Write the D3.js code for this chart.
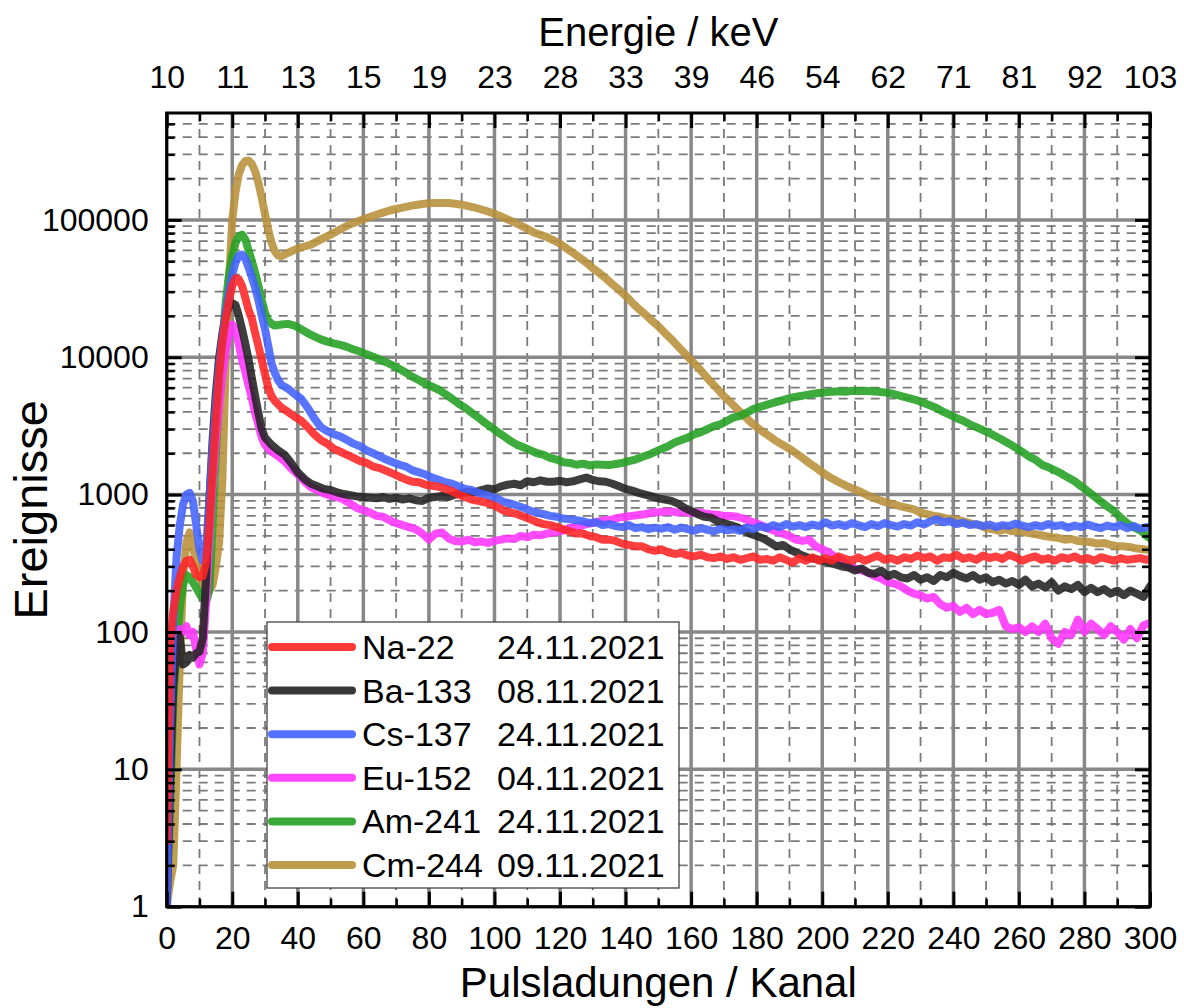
<!DOCTYPE html>
<html>
<head>
<meta charset="utf-8">
<script src="https://cdn.jsdelivr.net/npm/d3@7"></script>
<style>
  body { margin: 0; background: #fff; }
  svg  { display: block; font-family: "Liberation Sans", Arial, sans-serif; }
</style>
</head>
<body>
<svg id="chart" width="1184" height="1008"></svg>
<script>
// [channel, events]
const naData = [[0,3],[1,80],[2,140],[3,200],[4,250],[5,300],[6,330],[7,335],[8,300],[9,260],[10,250],[11,255],[12,320],[13,600],[14,1500],[15,3500],[16,7500],[17,13000],[18,19000],[19,26000],[20,33000],[21,37500],[22,37000],[23,33000],[24,27000],[25,22000],[26,19000],[27,15000],[28,12000],[29,9500],[30,7500],[31,6000],[32,5200],[33,4800],[35,4300],[37,4000],[39,3700],[41,3450],[43,3100],[45,2750],[47,2500],[49,2350],[51,2150],[53,2050],[55,1950],[57,1850],[59,1750],[61,1700],[63,1600],[65,1560],[67,1490],[69,1420],[71,1350],[73,1290],[75,1240],[77,1230],[79,1180],[81,1160],[83,1140],[85,1100],[87,1060],[89,1000],[91,960],[93,920],[95,900],[97,880],[99,850],[101,810],[103,760],[105,740],[107,720],[109,690],[111,660],[113,630],[115,610],[117,600],[119,580],[121,560],[123,540],[125,520],[127,520],[129,500],[131,490],[133,470],[135,470],[137,460],[139,440],[141,430],[143,420],[145,420],[147,400],[149,390],[151,400],[153,380],[155,370],[157,375],[159,360],[161,355],[163,365],[165,350],[167,345],[169,355],[171,340],[173,350],[175,335],[177,345],[179,355],[181,335],[183,340],[185,330],[187,350],[189,335],[191,320],[193,345],[195,330],[197,350],[199,330],[201,345],[203,330],[205,355],[207,340],[209,330],[211,350],[213,330],[215,345],[217,360],[219,335],[221,345],[223,330],[225,350],[227,340],[229,360],[231,345],[233,355],[235,330],[237,350],[239,345],[241,365],[243,340],[245,350],[247,335],[249,360],[251,345],[253,355],[255,340],[257,365],[259,350],[261,330],[263,345],[265,355],[267,335],[269,345],[271,330],[273,350],[275,340],[277,355],[279,335],[281,345],[283,330],[285,350],[287,340],[289,330],[291,345],[293,335],[295,340],[297,345],[299,335],[300,340]];

const baData = [[0,1],[1,8],[2,40],[3,80],[4,92],[5,58],[6,60],[7,68],[8,65],[9,70],[10,72],[11,90],[12,250],[13,900],[14,2500],[15,5500],[16,10000],[17,15000],[18,20000],[19,23500],[20,24800],[21,24000],[22,20000],[23,16000],[24,12500],[25,9500],[26,7000],[27,5200],[28,3900],[29,3000],[30,2600],[32,2300],[34,2100],[36,1950],[38,1700],[40,1450],[42,1300],[44,1200],[46,1150],[48,1100],[50,1080],[52,1040],[54,1010],[56,990],[58,970],[60,960],[62,950],[64,940],[66,960],[68,930],[70,950],[72,920],[74,940],[76,910],[78,900],[80,950],[82,960],[84,980],[86,960],[88,1000],[90,1030],[92,1050],[94,1040],[96,1080],[98,1110],[100,1090],[102,1150],[104,1180],[106,1200],[108,1170],[110,1250],[112,1230],[114,1270],[116,1240],[118,1240],[120,1260],[122,1230],[124,1250],[126,1290],[128,1330],[130,1280],[132,1250],[134,1240],[136,1200],[138,1150],[140,1100],[142,1070],[144,1030],[146,1000],[148,970],[150,940],[152,920],[154,900],[156,860],[158,800],[160,760],[162,720],[164,690],[166,680],[168,640],[170,620],[172,600],[174,580],[176,550],[178,520],[180,500],[182,480],[184,450],[186,420],[188,430],[190,400],[192,380],[194,360],[196,345],[198,340],[200,330],[202,320],[204,310],[206,300],[208,295],[210,280],[212,290],[214,270],[216,265],[218,280],[220,255],[222,265],[224,250],[226,245],[228,260],[230,240],[232,250],[234,235],[236,260],[238,250],[240,270],[242,255],[244,245],[246,260],[248,240],[250,250],[252,230],[254,240],[256,225],[258,235],[260,220],[262,240],[264,215],[266,225],[268,210],[270,230],[272,200],[274,215],[276,205],[278,220],[280,195],[282,210],[284,195],[286,205],[288,190],[290,200],[292,185],[294,200],[296,190],[298,180],[300,215]];

const csData = [[0,1],[1,20],[2,120],[3,350],[4,600],[5,850],[6,1000],[7,1030],[8,900],[9,600],[10,400],[11,330],[12,400],[13,900],[14,2200],[15,4500],[16,8500],[17,14000],[18,21000],[19,30000],[20,40000],[21,49000],[22,55000],[23,56000],[24,52000],[25,45000],[26,38000],[27,32000],[28,26000],[29,20000],[30,16000],[31,12000],[32,9000],[33,7700],[34,6800],[35,6300],[37,5900],[39,5400],[41,5000],[43,4300],[45,3600],[47,3100],[49,2900],[51,2750],[53,2650],[55,2500],[57,2350],[59,2250],[61,2100],[63,2000],[65,1900],[67,1800],[69,1720],[71,1650],[73,1600],[75,1500],[77,1450],[79,1400],[81,1330],[83,1280],[85,1230],[87,1200],[89,1150],[91,1100],[93,1080],[95,1030],[97,1000],[99,960],[101,930],[103,880],[105,860],[107,830],[109,800],[111,760],[113,740],[115,720],[117,700],[119,690],[121,670],[123,660],[125,650],[127,640],[129,620],[131,630],[133,600],[135,610],[137,590],[139,580],[141,600],[143,570],[145,580],[147,560],[149,575],[151,565],[153,580],[155,555],[157,575],[159,560],[161,545],[163,570],[165,555],[167,540],[169,565],[171,550],[173,560],[175,545],[177,575],[179,560],[181,590],[183,570],[185,600],[187,580],[189,610],[191,585],[193,600],[195,580],[197,605],[199,590],[201,630],[203,595],[205,610],[207,590],[209,620],[211,600],[213,580],[215,610],[217,590],[219,620],[221,600],[223,585],[225,610],[227,595],[229,630],[231,605],[233,640],[235,660],[237,630],[239,640],[241,610],[243,625],[245,600],[247,610],[249,590],[251,605],[253,580],[255,600],[257,590],[259,615],[261,595],[263,580],[265,600],[267,585],[269,610],[271,590],[273,600],[275,575],[277,595],[279,580],[281,605],[283,585],[285,570],[287,595],[289,580],[291,600],[293,570],[295,590],[297,565],[299,580],[300,575]];

const euData = [[0,1],[1,10],[2,50],[3,90],[4,105],[5,100],[6,110],[7,95],[8,100],[9,75],[10,58],[11,70],[12,160],[13,500],[14,1200],[15,2500],[16,4500],[17,7500],[18,11000],[19,15000],[20,17300],[21,16000],[22,12500],[23,9500],[24,7800],[25,6200],[26,5000],[27,3900],[28,3200],[29,2600],[30,2300],[32,2050],[34,1900],[36,1750],[38,1550],[40,1400],[42,1250],[44,1130],[46,1080],[48,1020],[50,980],[52,960],[54,920],[56,860],[58,800],[60,770],[62,740],[64,700],[66,690],[68,650],[70,620],[72,600],[74,580],[76,560],[78,520],[80,470],[82,520],[84,530],[86,480],[88,460],[90,455],[92,470],[94,450],[96,455],[98,445],[100,460],[102,470],[104,480],[106,475],[108,500],[110,490],[112,510],[114,505],[116,520],[118,530],[120,540],[122,560],[124,580],[126,590],[128,610],[130,620],[132,640],[134,650],[136,660],[138,680],[140,690],[142,700],[144,710],[146,720],[148,740],[150,745],[152,750],[154,755],[156,740],[158,750],[160,735],[162,740],[164,730],[166,720],[168,715],[170,700],[172,700],[174,690],[176,670],[178,640],[180,615],[182,590],[184,560],[186,540],[188,520],[190,500],[192,470],[194,460],[196,470],[198,420],[200,400],[202,380],[204,350],[206,330],[208,300],[210,290],[212,280],[214,270],[216,255],[218,245],[220,230],[222,225],[224,215],[226,200],[228,190],[230,185],[232,175],[234,180],[236,160],[238,150],[240,155],[242,140],[244,150],[246,135],[248,145],[250,135],[252,138],[254,145],[256,110],[258,105],[260,108],[262,100],[264,110],[266,100],[268,115],[270,90],[272,82],[274,100],[276,95],[278,123],[280,100],[282,115],[284,105],[286,95],[288,110],[290,100],[292,88],[294,105],[296,90],[298,112],[300,116]];

const amData = [[0,1],[1,5],[2,30],[3,80],[4,150],[5,220],[6,260],[7,250],[8,230],[9,210],[10,190],[11,175],[12,165],[13,200],[14,600],[15,2000],[16,5500],[17,13000],[18,25000],[19,40000],[20,55000],[21,68000],[22,76000],[23,78000],[24,72000],[25,60000],[26,50000],[27,41000],[28,33000],[29,26000],[30,21000],[31,18500],[32,17500],[33,17000],[35,17300],[37,17500],[39,17000],[41,16000],[43,15000],[45,14200],[47,13500],[49,13000],[51,12600],[53,12300],[55,11900],[57,11400],[59,11000],[61,10500],[63,10100],[65,9600],[67,9200],[69,8700],[71,8200],[73,7700],[75,7200],[77,6800],[79,6400],[81,6100],[83,5800],[85,5400],[87,5000],[89,4600],[91,4300],[93,3950],[95,3650],[97,3350],[99,3100],[101,2850],[103,2650],[105,2450],[107,2300],[109,2200],[111,2100],[113,2000],[115,1950],[117,1850],[119,1800],[121,1720],[123,1700],[125,1650],[127,1680],[129,1630],[131,1660],[133,1650],[135,1640],[137,1670],[139,1700],[141,1750],[143,1800],[145,1880],[147,1950],[149,2050],[151,2150],[153,2250],[155,2400],[157,2500],[159,2600],[161,2750],[163,2850],[165,3000],[167,3150],[169,3250],[171,3450],[173,3650],[175,3750],[177,3950],[179,4200],[181,4350],[183,4500],[185,4650],[187,4800],[189,4950],[191,5100],[193,5200],[195,5300],[197,5400],[199,5500],[201,5550],[203,5600],[205,5650],[207,5600],[209,5700],[211,5650],[213,5700],[215,5650],[217,5600],[219,5550],[221,5450],[223,5300],[225,5150],[227,5000],[229,4850],[231,4650],[233,4450],[235,4250],[237,4000],[239,3800],[241,3600],[243,3450],[245,3250],[247,3100],[249,2950],[251,2800],[253,2650],[255,2500],[257,2350],[259,2200],[261,2050],[263,1900],[265,1800],[267,1650],[269,1580],[271,1500],[273,1420],[275,1330],[277,1250],[279,1150],[281,1060],[283,970],[285,890],[287,820],[289,760],[291,680],[293,620],[295,580],[297,550],[299,500],[300,480]];

const cmData = [[0,1],[1,1.5],[2,2],[3,10],[4,60],[5,250],[6,450],[7,530],[8,420],[9,320],[10,260],[11,220],[12,200],[13,200],[14,220],[15,300],[16,450],[17,1300],[18,9000],[19,35000],[20,100000],[21,160000],[22,215000],[23,250000],[24,268000],[25,270000],[26,255000],[27,225000],[28,185000],[29,145000],[30,110000],[31,85000],[32,68000],[33,59000],[34,55000],[35,54500],[36,56000],[38,59000],[40,62000],[42,64000],[44,66000],[46,70000],[48,74000],[50,78000],[52,83000],[54,88000],[56,93000],[58,97000],[60,101000],[62,105000],[64,109000],[66,113000],[68,117000],[70,120000],[72,123000],[74,126000],[76,128500],[78,130500],[80,132000],[82,133000],[84,133000],[86,132500],[88,131000],[90,129000],[92,126000],[94,123000],[96,119000],[98,115000],[100,111000],[102,106000],[104,101000],[106,96000],[108,91000],[110,86000],[112,81000],[114,78000],[116,75000],[118,71000],[120,67000],[122,62000],[124,57500],[126,53000],[128,49000],[130,44500],[132,41000],[134,37500],[136,34000],[138,31000],[140,28000],[142,25000],[144,22500],[146,20500],[148,18500],[150,16800],[152,15000],[154,13500],[156,12000],[158,10700],[160,9500],[162,8500],[164,7500],[166,6600],[168,5900],[170,5200],[172,4700],[174,4200],[176,3800],[178,3400],[180,3100],[182,2850],[184,2650],[186,2450],[188,2300],[190,2150],[192,2000],[194,1850],[196,1700],[198,1580],[200,1450],[202,1350],[204,1270],[206,1200],[208,1140],[210,1090],[212,1040],[214,980],[216,940],[218,900],[220,870],[222,850],[224,820],[226,800],[228,780],[230,740],[232,720],[234,700],[236,690],[238,670],[240,660],[242,650],[244,630],[246,610],[248,600],[250,570],[252,560],[254,545],[256,560],[258,540],[260,545],[262,530],[264,520],[266,510],[268,500],[270,490],[272,485],[274,470],[276,475],[278,460],[280,455],[282,450],[284,440],[286,445],[288,430],[290,420],[292,420],[294,415],[296,405],[298,400],[300,395]];

const seriesNames  = ['Na-22', 'Ba-133', 'Cs-137', 'Eu-152', 'Am-241', 'Cm-244'];
const seriesDates  = ['24.11.2021', '08.11.2021', '24.11.2021', '04.11.2021', '24.11.2021', '09.11.2021'];
const seriesColors = ['#ff2424', '#222222', '#4262ff', '#ff33ff', '#22a022', '#b8903a'];
const seriesData   = [naData, baData, csData, euData, amData, cmData];
// draw order (back to front)
const drawOrder = [5, 4, 3, 1, 2, 0];

const channelTicks = d3.range(0, 301, 20);
const channelMinor = d3.range(10, 300, 20);
const energyLabels = ['10', '11', '13', '15', '19', '23', '28', '33', '39', '46', '54', '62', '71', '81', '92', '103'];
const decadeTicks  = [1, 10, 100, 1000, 10000, 100000];

const plot = { left: 166.7, right: 1150, top: 113, bottom: 906.7 };

const svg = d3.select('#chart');

const xScale = d3.scaleLinear().domain([0, 300]).range([plot.left, plot.right]);
const yScale = d3.scaleLog().domain([1, 600000]).range([plot.bottom, plot.top]);

const minorY = [];
for (let k = 0; k <= 5; k++) {
  for (let m = 2; m <= 9; m++) {
    const v = m * Math.pow(10, k);
    if (v < 600000) minorY.push(v);
  }
}

// gridlines
const grid = svg.append('g').attr('class', 'grid');

grid.selectAll('line.vminor')
  .data(channelMinor)
  .join('line')
  .attr('x1', d => xScale(d)).attr('x2', d => xScale(d))
  .attr('y1', plot.top).attr('y2', plot.bottom)
  .attr('stroke', '#7a7a7a').attr('stroke-width', 1.8)
  .attr('stroke-dasharray', '9,7');

grid.selectAll('line.hminor')
  .data(minorY)
  .join('line')
  .attr('x1', plot.left).attr('x2', plot.right)
  .attr('y1', d => yScale(d)).attr('y2', d => yScale(d))
  .attr('stroke', '#7a7a7a').attr('stroke-width', 1.8)
  .attr('stroke-dasharray', '9,7');

grid.selectAll('line.vmajor')
  .data(channelTicks)
  .join('line')
  .attr('x1', d => xScale(d)).attr('x2', d => xScale(d))
  .attr('y1', plot.top).attr('y2', plot.bottom)
  .attr('stroke', '#888').attr('stroke-width', 3.5);

grid.selectAll('line.hmajor')
  .data(decadeTicks)
  .join('line')
  .attr('x1', plot.left).attr('x2', plot.right)
  .attr('y1', d => yScale(d)).attr('y2', d => yScale(d))
  .attr('stroke', '#888').attr('stroke-width', 3.5);

// curves
svg.append('clipPath').attr('id', 'clip')
  .append('rect')
  .attr('x', plot.left).attr('y', plot.top)
  .attr('width', plot.right - plot.left).attr('height', plot.bottom - plot.top);

const line = d3.line()
  .x(d => xScale(d[0]))
  .y(d => yScale(d[1]));

svg.append('g')
  .attr('clip-path', 'url(#clip)')
  .selectAll('path')
  .data(drawOrder)
  .join('path')
  .attr('d', i => line(seriesData[i]))
  .attr('fill', 'none')
  .attr('stroke', i => seriesColors[i])
  .attr('stroke-width', 8)
  .attr('stroke-opacity', 0.88)
  .attr('stroke-linejoin', 'round')
  .attr('stroke-linecap', 'round');

// legend
const legend = svg.append('g').attr('class', 'legend');
legend.append('rect')
  .attr('x', 267).attr('y', 622).attr('width', 412).attr('height', 266)
  .attr('fill', '#fff').attr('stroke', '#333').attr('stroke-width', 1.2);

const rows = legend.selectAll('g.row')
  .data(seriesNames)
  .join('g')
  .attr('transform', (d, i) => `translate(0, ${647 + i * 43.6})`);

rows.append('line')
  .attr('x1', 272).attr('x2', 352)
  .attr('stroke', (d, i) => seriesColors[i])
  .attr('stroke-width', 8)
  .attr('stroke-linecap', 'round')
  .attr('stroke-opacity', 0.9);

rows.append('text')
  .attr('x', 362).attr('y', 12)
  .attr('font-size', 34)
  .text(d => d);

rows.append('text')
  .attr('x', 497).attr('y', 12)
  .attr('font-size', 34)
  .text((d, i) => seriesDates[i]);

// frame
svg.append('rect')
  .attr('x', plot.left).attr('y', plot.top)
  .attr('width', plot.right - plot.left).attr('height', plot.bottom - plot.top)
  .attr('fill', 'none').attr('stroke', '#000').attr('stroke-width', 3);

// axes (ticks point inward)
function styleAxis(g, width) {
  g.select('.domain').remove();
  g.selectAll('.tick line').attr('stroke', '#000').attr('stroke-width', width);
  g.selectAll('.tick text')
    .attr('fill', '#000')
    .attr('font-size', 32)
    .attr('font-family', '"Liberation Sans", Arial, sans-serif');
}

svg.append('g')
  .attr('transform', `translate(0, ${plot.bottom})`)
  .call(d3.axisBottom(xScale).tickValues(channelTicks).tickSize(-15).tickPadding(20))
  .call(g => styleAxis(g, 3));

svg.append('g')
  .attr('transform', `translate(0, ${plot.bottom})`)
  .call(d3.axisBottom(xScale).tickValues(channelMinor).tickSize(-8).tickFormat(''))
  .call(g => styleAxis(g, 2.5));

svg.append('g')
  .attr('transform', `translate(0, ${plot.top})`)
  .call(d3.axisTop(xScale).tickValues(channelTicks).tickSize(-15).tickPadding(25)
    .tickFormat((d, i) => energyLabels[i]))
  .call(g => styleAxis(g, 3));

svg.append('g')
  .attr('transform', `translate(0, ${plot.top})`)
  .call(d3.axisTop(xScale).tickValues(channelMinor).tickSize(-8).tickFormat(''))
  .call(g => styleAxis(g, 2.5));

svg.append('g')
  .attr('transform', `translate(${plot.left}, 0)`)
  .call(d3.axisLeft(yScale).tickValues(decadeTicks).tickSize(-15).tickPadding(18)
    .tickFormat(d3.format('d')))
  .call(g => styleAxis(g, 3));

svg.append('g')
  .attr('transform', `translate(${plot.left}, 0)`)
  .call(d3.axisLeft(yScale).tickValues(minorY).tickSize(-8).tickFormat(''))
  .call(g => styleAxis(g, 2.5));

svg.append('g')
  .attr('transform', `translate(${plot.right}, 0)`)
  .call(d3.axisRight(yScale).tickValues(decadeTicks).tickSize(-15).tickFormat(''))
  .call(g => styleAxis(g, 3));

svg.append('g')
  .attr('transform', `translate(${plot.right}, 0)`)
  .call(d3.axisRight(yScale).tickValues(minorY).tickSize(-8).tickFormat(''))
  .call(g => styleAxis(g, 2.5));

// axis titles
svg.append('text')
  .attr('x', (plot.left + plot.right) / 2).attr('y', 997)
  .attr('text-anchor', 'middle').attr('font-size', 42)
  .text('Pulsladungen / Kanal');

svg.append('text')
  .attr('x', (plot.left + plot.right) / 2).attr('y', 46)
  .attr('text-anchor', 'middle').attr('font-size', 40)
  .text('Energie / keV');

svg.append('text')
  .attr('transform', `translate(47, ${(plot.top + plot.bottom) / 2}) rotate(-90)`)
  .attr('text-anchor', 'middle').attr('font-size', 47)
  .text('Ereignisse');
</script>
</body>
</html>
